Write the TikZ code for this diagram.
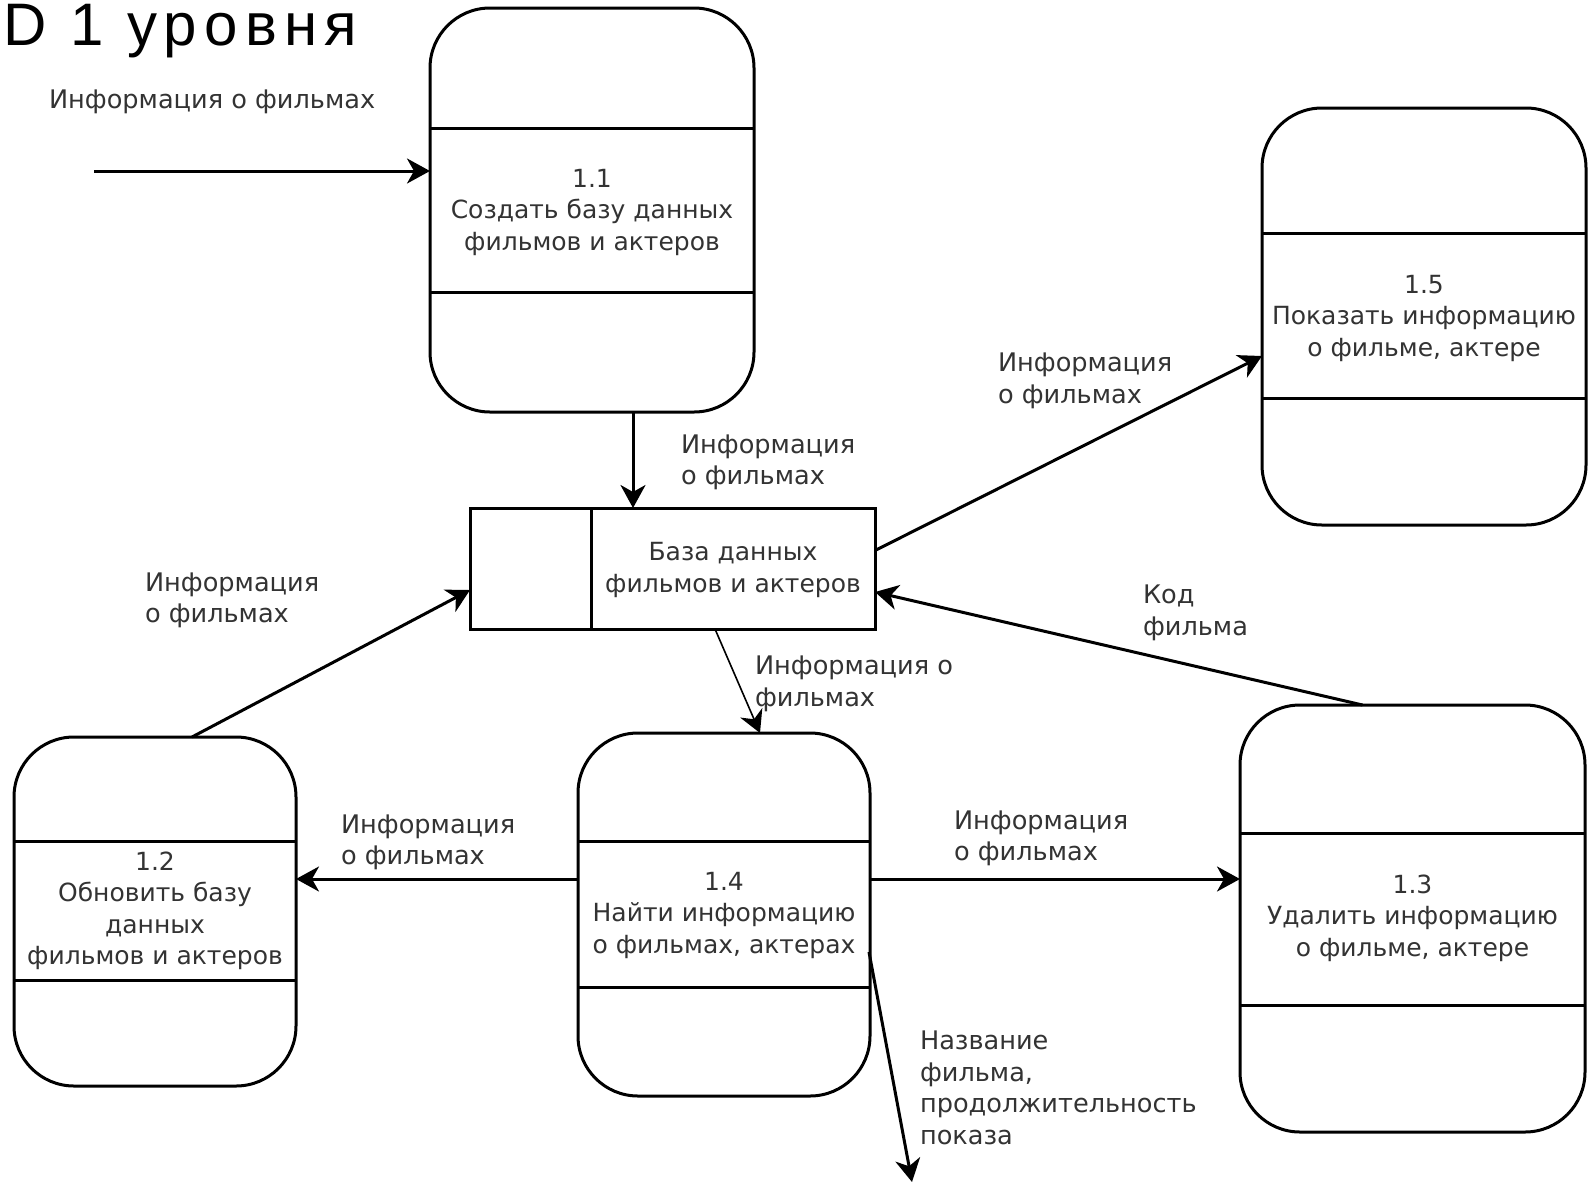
\documentclass[tikz,border=0pt]{standalone}
\usepackage{fontspec}
\setmainfont{DejaVu Sans}
\newfontfamily\titlefont[LetterSpace=12]{Liberation Sans}
\usetikzlibrary{arrows.meta,calc}
\begin{document}
\begin{tikzpicture}[x=1pt,y=-1pt,
  every node/.style={inner sep=0pt,outer sep=0pt},
  proc/.style={draw,line width=3pt,rounded corners=60pt,fill=white},
  store/.style={draw,line width=3pt,fill=white},
  txt/.style={text=black!80,font=\fontsize{25pt}{31.5pt}\selectfont,align=center},
  lbl/.style={text=black!80,font=\fontsize{25.6pt}{31.5pt}\selectfont,align=left,anchor=west},
  flow/.style={line width=3pt,-{Stealth[length=23pt,width=25pt,inset=7pt]}},
  thinflow/.style={line width=1.6pt,-{Stealth[length=22pt,width=24pt,inset=7pt]}}]
\useasboundingbox (0,0) rectangle (1588,1184);

% title
\node[anchor=base west,font=\titlefont\fontsize{60pt}{60pt}\selectfont] (title) at (3,45) {D 1 уровня};

% processes
\node[proc,minimum width=324pt,minimum height=404pt] (p11) at (592,210) {};
\node[proc,minimum width=324pt,minimum height=417pt] (p15) at (1424,316.5) {};
\node[proc,minimum width=282pt,minimum height=349pt] (p12) at (155,911.5) {};
\node[proc,minimum width=292pt,minimum height=363pt] (p14) at (724,914.5) {};
\node[proc,minimum width=345pt,minimum height=427pt] (p13) at (1412.5,918.5) {};
\node[store,minimum width=405pt,minimum height=121pt] (store) at (672.5,568.5) {};

% dividers
\draw[line width=3pt] (p11.west |- 0,128) -- (p11.east |- 0,128);
\draw[line width=3pt] (p11.west |- 0,292) -- (p11.east |- 0,292);
\draw[line width=3pt] (p15.west |- 0,233) -- (p15.east |- 0,233);
\draw[line width=3pt] (p15.west |- 0,398) -- (p15.east |- 0,398);
\draw[line width=3pt] (p12.west |- 0,841) -- (p12.east |- 0,841);
\draw[line width=3pt] (p12.west |- 0,980) -- (p12.east |- 0,980);
\draw[line width=3pt] (p14.west |- 0,841) -- (p14.east |- 0,841);
\draw[line width=3pt] (p14.west |- 0,987) -- (p14.east |- 0,987);
\draw[line width=3pt] (p13.west |- 0,833) -- (p13.east |- 0,833);
\draw[line width=3pt] (p13.west |- 0,1005) -- (p13.east |- 0,1005);
\draw[line width=3pt] (store.north -| 591,0) -- (store.south -| 591,0);

% texts
\node[txt] (t11) at (592,212) {1.1\\Создать базу данных\\фильмов и актеров};
\node[txt] (t15) at (1424,318) {1.5\\Показать информацию\\о фильме, актере};
\node[txt] (t12) at (155,911) {1.2\\Обновить базу\\данных\\фильмов и актеров};
\node[txt] (t14) at (724,915) {1.4\\Найти информацию\\о фильмах, актерах};
\node[txt] (t13) at (1412.5,918) {1.3\\Удалить информацию\\о фильме, актере};
\node[txt] (tst) at (733,570) {База данных\\фильмов и актеров};

% connectors
\coordinate (in) at (94,171);
\draw[flow] (in) -- (in -| p11.west);
\draw[flow] ($(p11.south)+(41,0)$) -- ($(store.north)+(-39.5,0)$);
\draw[flow] ($(store.east)+(0,-18)$) -- ($(p15.west)+(0,39.5)$);
\draw[flow] ($(p12.north)+(37,0)$) -- ($(store.west)+(0,21.5)$);
\draw[thinflow] ($(store.south)+(42.5,0)$) -- ($(p14.north)+(36,0)$);
\draw[flow] ($(p13.north)+(-50,0)$) -- ($(store.east)+(0,23.5)$);
\coordinate (hl) at ($(p14.west)+(0,-35.5)$);
\draw[flow] (hl) -- (hl -| p12.east);
\coordinate (hr) at ($(p14.east)+(0,-35.5)$);
\draw[flow] (hr) -- (hr -| p13.west);
\coordinate (out) at (912,1182);
\draw[flow] ($(p14.east)+(-1,37.5)$) -- (out);

% labels
\node[lbl] (l0) at (49,102) {Информация о фильмах};
\node[lbl] (l1) at (681,462.5) {Информация\\о фильмах};
\node[lbl] (l2) at (998,381) {Информация\\о фильмах};
\node[lbl] (l3) at (145,600.5) {Информация\\о фильмах};
\node[lbl] (l4) at (755,684) {Информация о\\фильмах};
\node[lbl] (l5) at (1143,613) {Код\\фильма};
\node[lbl] (l6) at (341,842.5) {Информация\\о фильмах};
\node[lbl] (l7) at (954,838.5) {Информация\\о фильмах};
\node[lbl] (l8) at (920,1088) {Название\\фильма,\\продолжительность\\показа};
\end{tikzpicture}
\end{document}
